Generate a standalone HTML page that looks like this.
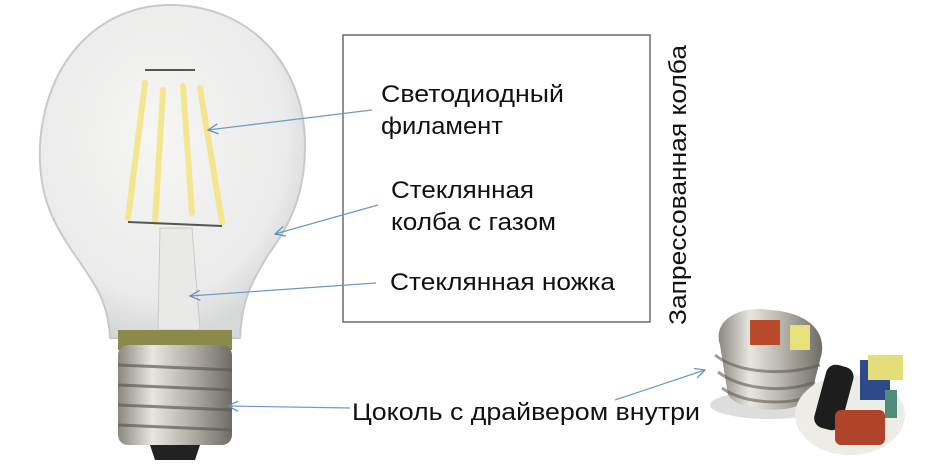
<!DOCTYPE html>
<html><head><meta charset="utf-8"><style>
html,body{margin:0;padding:0;background:#fff;width:940px;height:472px;overflow:hidden}
text{font-family:"Liberation Sans",sans-serif;fill:#111}
</style></head><body>
<svg width="940" height="472" viewBox="0 0 940 472" xmlns="http://www.w3.org/2000/svg">
<defs>
<radialGradient id="glass" cx="0.45" cy="0.4" r="0.6">
<stop offset="0" stop-color="#f6f6f4"/><stop offset="0.8" stop-color="#eaebea"/><stop offset="1" stop-color="#d6d8d7"/></radialGradient>
<linearGradient id="metal" x1="0" x2="1">
<stop offset="0" stop-color="#8a8780"/><stop offset="0.3" stop-color="#e8e6e0"/><stop offset="0.6" stop-color="#b9b6ae"/><stop offset="1" stop-color="#6f6c66"/></linearGradient>
<marker id="ar" markerWidth="12" markerHeight="12" refX="11" refY="6" orient="auto" markerUnits="userSpaceOnUse">
<path d="M1,1 L11,6 L1,11" fill="none" stroke="#5b8cc0" stroke-width="1.2"/></marker>
</defs>
<path d="M110,338 C108,300 95,285 75,255 C50,220 38,190 40,145 C45,60 100,5 170,5 C250,5 305,65 305,145 C305,195 290,225 268,255 C250,285 242,300 240,338 Z" fill="url(#glass)" stroke="#c8cac9" stroke-width="2"/>
<g stroke="#f5e58e" stroke-width="6" stroke-linecap="round">
<line x1="145" y1="83" x2="128" y2="218"/><line x1="163" y1="90" x2="155" y2="222"/>
<line x1="183" y1="86" x2="192" y2="213"/><line x1="200" y1="88" x2="222" y2="222"/></g>
<g stroke="#555" stroke-width="2"><line x1="145" y1="70" x2="195" y2="70"/><line x1="128" y1="222" x2="222" y2="226"/></g>
<path d="M160,228 L158,330 L200,330 L192,228 Z" fill="#e9eae8" stroke="#c9cac7"/>
<path d="M118,330 L232,330 L232,350 L118,350 Z" fill="#8a8a4a"/>
<rect x="118" y="345" width="114" height="100" rx="10" fill="url(#metal)"/>
<g stroke="#5f5c57" stroke-width="3" opacity="0.7">
<line x1="118" y1="365" x2="232" y2="370"/><line x1="118" y1="385" x2="232" y2="390"/><line x1="118" y1="405" x2="232" y2="410"/><line x1="118" y1="425" x2="232" y2="430"/></g>
<path d="M150,445 L200,445 L195,460 L155,460 Z" fill="#222"/>
<rect x="343" y="35" width="307" height="287" fill="none" stroke="#555" stroke-width="1.3"/>
<text x="381" y="102" font-size="24" textLength="183" lengthAdjust="spacingAndGlyphs">Светодиодный</text>
<text x="381" y="134" font-size="24" textLength="122" lengthAdjust="spacingAndGlyphs">филамент</text>
<text x="391" y="198" font-size="24" textLength="143" lengthAdjust="spacingAndGlyphs">Стеклянная</text>
<text x="391" y="230" font-size="24" textLength="165" lengthAdjust="spacingAndGlyphs">колба с газом</text>
<text x="390" y="290" font-size="24" textLength="225" lengthAdjust="spacingAndGlyphs">Стеклянная ножка</text>
<text x="352" y="420" font-size="24" textLength="348" lengthAdjust="spacingAndGlyphs">Цоколь с драйвером внутри</text>
<text transform="translate(686,325) rotate(-90)" font-size="24" textLength="280" lengthAdjust="spacingAndGlyphs">Запрессованная колба</text>
<g stroke="#6a98c8" stroke-width="1.2" fill="none">
<line x1="372" y1="110" x2="208" y2="130" marker-end="url(#ar)"/>
<line x1="378" y1="205" x2="275" y2="234" marker-end="url(#ar)"/>
<line x1="376" y1="283" x2="190" y2="296" marker-end="url(#ar)"/>
<line x1="350" y1="408" x2="228" y2="406" marker-end="url(#ar)"/>
<line x1="615" y1="400" x2="705" y2="370" marker-end="url(#ar)"/>
</g>
<ellipse cx="770" cy="405" rx="60" ry="14" fill="#ddd"/>
<path d="M720,345 C712,320 740,305 770,310 C805,312 830,330 820,360 L810,400 C790,415 740,412 728,395 Z" fill="url(#metal)"/>
<g stroke="#5f5c57" stroke-width="3" opacity="0.6" fill="none">
<path d="M715,355 C740,375 790,375 820,365"/><path d="M718,372 C745,392 790,392 815,382"/><path d="M722,388 C745,405 790,405 812,396"/></g>
<rect x="750" y="320" width="30" height="25" fill="#b84a2a"/>
<rect x="790" y="325" width="20" height="25" fill="#e8e07a"/>
<ellipse cx="850" cy="415" rx="55" ry="40" fill="#eeece6"/>
<rect x="820" y="365" width="28" height="65" rx="10" fill="#1d1d1d" transform="rotate(15 834 397)"/>
<rect x="835" y="410" width="50" height="35" rx="6" fill="#b0432a"/>
<rect x="860" y="360" width="30" height="40" fill="#2f4a8a"/>
<rect x="868" y="355" width="35" height="25" fill="#e5dc7a"/>
<rect x="885" y="390" width="12" height="28" fill="#4f8c7a"/>
</svg>
</body></html>
